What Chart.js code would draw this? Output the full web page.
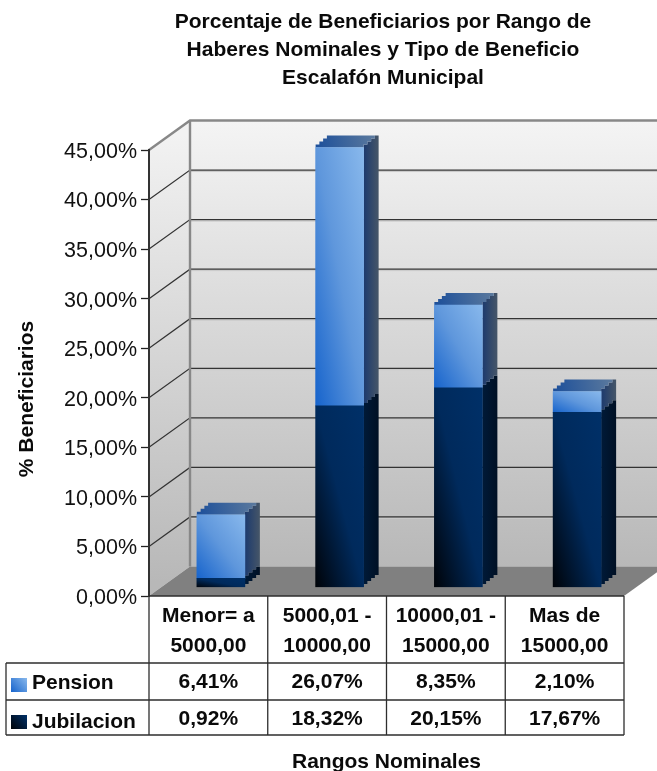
<!DOCTYPE html>
<html><head><meta charset="utf-8">
<style>html,body{margin:0;padding:0;background:#fff}canvas{display:block}</style>
<script src="https://cdn.jsdelivr.net/npm/chart.js@4"></script>
</head><body><canvas id="c" width="657" height="771"></canvas>
<script>
const categories = [['Menor= a','5000,00'],['5000,01 -','10000,00'],['10000,01 -','15000,00'],['Mas de','15000,00']];
const pension = [6.41, 26.07, 8.35, 2.10];
const jubilacion = [0.92, 18.32, 20.15, 17.67];
const titleLines = ['Porcentaje de Beneficiarios por Rango de','Haberes Nominales y Tipo de Beneficio','Escalafón Municipal'];
const yTitle = '% Beneficiarios';
const xTitle = 'Rangos Nominales';
const FONT = '"Liberation Sans", Arial, sans-serif';
const fmt = v => v.toFixed(2).replace('.', ',') + '%';
const DEPTH = {x:41, y:-29.5};
const BAR_SHIFT = {x:12.5, y:-8.5};
const SIDE = {x:15, y:-12};
const STEPS = 4;

function barBox(ctx){
  const c = ctx.chart, i = ctx.dataIndex, ds = ctx.datasetIndex;
  const x = c.scales.x.getPixelForValue(i);
  let lo = 0; for (let k=0;k<ds;k++) lo += c.data.datasets[k].data[i];
  const hi = lo + c.data.datasets[ds].data[i];
  return {x0:x-24, x1:x+24, yT:c.scales.y.getPixelForValue(hi), yB:c.scales.y.getPixelForValue(lo)};
}
function diagGradient(ctx, stops){
  const b = barBox(ctx), w = b.x1-b.x0, h = Math.max(1,b.yB-b.yT);
  const k = 2*h*w/(h*h+w*w);
  const g = ctx.chart.ctx.createLinearGradient(b.x0,b.yB,b.x0+k*h,b.yB-k*w);
  stops.forEach(s=>g.addColorStop(s[0],s[1]));
  return g;
}
function pensionFill(ctx){
  if(!ctx.chart.chartArea || ctx.dataIndex===undefined) return '#5a93dc';
  return diagGradient(ctx,[[0,'#1764cc'],[.5,'#5f97dc'],[1,'#88b8ec']]);
}
function jubFill(ctx){
  if(!ctx.chart.chartArea || ctx.dataIndex===undefined) return '#002a5c';
  return diagGradient(ctx,[[0,'#000308'],[.5,'#002a5c'],[1,'#003068']]);
}
function poly(c, pts){ c.beginPath(); pts.forEach((p,i)=> i?c.lineTo(p[0],p[1]):c.moveTo(p[0],p[1])); c.closePath(); }
function stairUp(x,y,sx,sy){
  const out=[]; for(let i=1;i<=STEPS;i++){ out.push([x+sx*(i-1)/STEPS,y+sy*i/STEPS]); out.push([x+sx*i/STEPS,y+sy*i/STEPS]); }
  return out;
}

const deco = {
  id:'deco',
  afterLayout(chart){ chart.titleBlock.left -= 7; },
  beforeDraw(chart){
    const c = chart.ctx, y = chart.scales.y, a = chart.chartArea;
    y.getLabelItems(a).forEach(it=>{ if(!it.options._moved){ it.options.translation=[it.options.translation[0],it.options.translation[1]+2]; it.options._moved=true; } });
    const dx = DEPTH.x, dy = DEPTH.y, bx = a.left+dx, top = a.top+dy, bot = a.bottom+dy, right = a.right+dx;
    const wall = c.createLinearGradient(0, top, 0, bot);
    wall.addColorStop(0,'#f4f4f4'); wall.addColorStop(1,'#b8b8b8');
    c.fillStyle = wall; c.fillRect(bx, top, right-bx, bot-top);
    const lw = c.createLinearGradient(0, a.top-15, 0, a.bottom-15);
    lw.addColorStop(0,'#f2f2f2'); lw.addColorStop(1,'#b8b8b8');
    c.fillStyle = lw;
    c.beginPath(); c.moveTo(a.left,a.top); c.lineTo(bx,top); c.lineTo(bx,bot); c.lineTo(a.left,a.bottom); c.closePath(); c.fill();
    c.fillStyle = '#808080';
    c.beginPath(); c.moveTo(a.left,a.bottom); c.lineTo(bx,bot); c.lineTo(right,bot); c.lineTo(a.right,a.bottom); c.closePath(); c.fill();
    y.ticks.forEach(t=>{
      if(t.value===0 || t.value===45) return;
      const p = y.getPixelForValue(t.value);
      c.strokeStyle='#c9c9c9'; c.lineWidth=1;
      c.beginPath(); c.moveTo(bx,p+dy+1.5); c.lineTo(right,p+dy+1.5); c.stroke();
      c.strokeStyle='#333'; c.lineWidth=1.2;
      c.beginPath(); c.moveTo(a.left,p); c.lineTo(bx,p+dy); c.lineTo(right,p+dy); c.stroke();
    });
    c.strokeStyle='#888888'; c.lineWidth=2.4;
    c.beginPath(); c.moveTo(a.left,a.top); c.lineTo(bx,top); c.lineTo(right,top); c.moveTo(bx,top); c.lineTo(bx,bot); c.stroke();
  },
  beforeDatasetsDraw(chart){
    const c = chart.ctx, sx=SIDE.x, sy=SIDE.y;
    c.save(); c.translate(BAR_SHIFT.x, BAR_SHIFT.y);
    const colors = [ {a:'#001a38', b:'#001024'}, {a:'#1c3a6e', b:'#465668'} ];
    chart.data.labels.forEach((_,j)=>{
      chart.data.datasets.forEach((d,k)=>{
        const e = chart.getDatasetMeta(k).data[j];
        const r = e.x+e.width/2;
        const g = c.createLinearGradient(r,0,r+sx,0);
        g.addColorStop(0,colors[k].a); g.addColorStop(1,colors[k].b);
        c.fillStyle = g;
        poly(c,[[r,e.y]].concat(stairUp(r,e.y,sx,sy), stairUp(r,e.base,sx,sy).reverse(), [[r,e.base]]));
        c.fill();
      });
      const e = chart.getDatasetMeta(1).data[j];
      const r = e.x+e.width/2, l = e.x-e.width/2;
      const g = c.createLinearGradient(l,e.y,r+sx,e.y+sy);
      g.addColorStop(0,'#1c4f9a'); g.addColorStop(1,'#5f7c9e');
      c.fillStyle = g;
      poly(c,[[l,e.y]].concat(stairUp(l,e.y,sx,sy), stairUp(r,e.y,sx,sy).reverse(), [[r,e.y]]));
      c.fill();
    });
  },
  afterDatasetsDraw(chart){ chart.ctx.restore(); },
  afterDraw(chart){
    const c = chart.ctx, a = chart.chartArea, x = chart.scales.x;
    const rows = [{name:'Pension', data:pension, fill:['#1764cc','#88b8ec'], top:663, bottom:700, sw:678, nameY:683, valY:682},
                  {name:'Jubilacion', data:jubilacion, fill:['#000308','#003068'], top:700, bottom:735, sw:715, nameY:722, valY:719}];
    const bounds = [a.left].concat(chart.data.labels.map((_,i)=>x.getPixelForValue(i)+(a.right-a.left)/8));
    c.save();
    c.strokeStyle='#2e2e2e'; c.lineWidth=1.3;
    c.beginPath();
    c.moveTo(a.left,a.bottom); c.lineTo(a.right,a.bottom);
    bounds.forEach(b=>{ c.moveTo(b,a.bottom); c.lineTo(b,735); });
    [663,700,735].forEach(t=>{ c.moveTo(6,t); c.lineTo(a.right,t); });
    c.moveTo(6,663); c.lineTo(6,735);
    c.stroke();
    c.font='bold 21px '+FONT; c.textBaseline='middle';
    rows.forEach(r=>{
      const g = c.createLinearGradient(11,r.sw+14,27,r.sw);
      g.addColorStop(0,r.fill[0]); g.addColorStop(1,r.fill[1]);
      c.fillStyle=g; c.fillRect(11,r.sw,16,14);
      c.fillStyle='#0a0a0a'; c.textAlign='left'; c.fillText(r.name,32,r.nameY);
      c.textAlign='center';
      r.data.forEach((v,i)=> c.fillText(fmt(v), x.getPixelForValue(i), r.valY));
    });
    c.translate(27,399); c.rotate(-Math.PI/2);
    c.textAlign='center'; c.fillStyle='#0a0a0a'; c.fillText(yTitle,0,0);
    c.restore();
  }
};

new Chart(document.getElementById('c'),{
  type:'bar',
  data:{labels:categories,datasets:[
    {label:'Jubilacion',data:jubilacion,backgroundColor:jubFill,stack:'s',barThickness:48},
    {label:'Pension',data:pension,backgroundColor:pensionFill,stack:'s',barThickness:48}
  ]},
  plugins:[deco],
  options:{
    responsive:false,animation:false,
    layout:{padding:{left:0,right:33,top:0,bottom:0},autoPadding:false},
    plugins:{
      legend:{display:false},tooltip:{enabled:false},
      title:{display:true,fullSize:false,text:titleLines,color:'#0a0a0a',font:{family:FONT,size:21,weight:'bold',lineHeight:28/21},padding:{top:8,bottom:58}}
    },
    scales:{
      x:{stacked:true,afterFit:s=>{s.height=175;},
        grid:{display:false,drawTicks:false},border:{display:false},
        ticks:{color:'#0a0a0a',padding:5,maxRotation:0,autoSkip:false,font:{family:FONT,size:21,weight:'bold',lineHeight:30/21}},
        title:{display:true,text:xTitle,color:'#0a0a0a',font:{family:FONT,size:21,weight:'bold'},padding:{top:0,bottom:-4}}
      },
      y:{stacked:true,min:0,max:45,afterFit:s=>{s.width=149;},
        grid:{drawOnChartArea:false,tickLength:8,tickColor:'#222',tickWidth:1.3},
        border:{color:'#333',width:2},
        ticks:{stepSize:5,color:'#111',padding:4,callback:v=>fmt(v),font:{family:FONT,size:21.5}}
      }
    }
  }
});
</script></body></html>
